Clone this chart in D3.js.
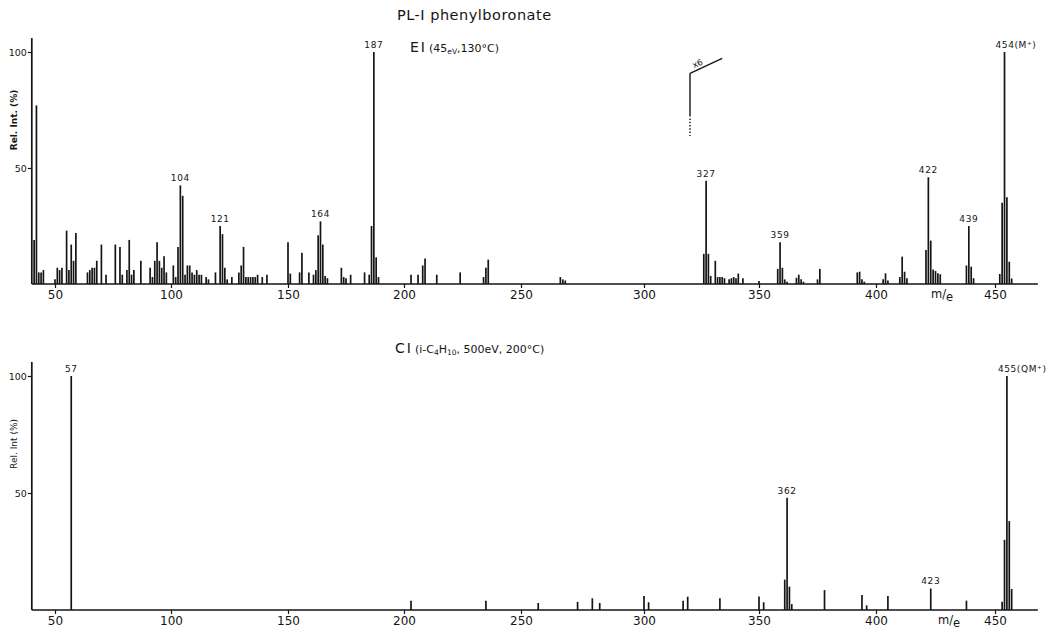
<!DOCTYPE html>
<html>
<head>
<meta charset="utf-8">
<script src="https://cdn.jsdelivr.net/npm/d3@7"></script>
<style>
  body { margin: 0; background: #fff; }
  svg text { font-family: "DejaVu Sans", sans-serif; fill: #151515; }
</style>
</head>
<body>
<svg id="chart" width="1052" height="632"></svg>
<script>
// m/e tick values (shared by both spectra)
const xTicks = [50, 100, 150, 200, 250, 300, 350, 400, 450];
const yTicks = [50, 100];

// EI spectrum (45 eV, 130 °C); peaks right of m/e 320 shown x6
const eiMz = [
  41, 42, 43, 44, 45, 50, 51, 52, 53, 55, 56, 57, 58, 59, 64, 65, 66, 67, 68, 70,
  72, 76, 78, 79, 81, 82, 83, 84, 87, 91, 92, 93, 94, 95, 96, 97, 98, 101, 102, 103,
  104, 105, 106, 107, 108, 109, 110, 111, 112, 113, 115, 116, 119, 121, 122, 123, 124, 126, 129, 130,
  131, 132, 133, 134, 135, 136, 137, 139, 141, 150, 151, 155, 156, 159, 161, 162, 163, 164, 165, 166,
  167, 173, 174, 175, 177, 183, 185, 186, 187, 188, 189, 203, 206, 208, 209, 214, 224, 234, 235, 236,
  266, 267, 268,
  326, 327, 328, 329, 331, 332, 333, 334, 335, 337, 338, 339, 340, 341, 343, 350, 358, 359, 360, 361,
  362, 366, 367, 368, 369, 375, 376, 392, 393, 394, 395, 403, 404, 405, 410, 411, 412, 413, 421, 422,
  423, 424, 425, 426, 427, 438, 439, 440, 441, 452, 453, 454, 455, 456, 457
];
const eiInt = [
  19, 77, 5, 5, 6, 2, 7, 6, 7, 23, 6, 17, 10, 22, 5, 6, 7, 7, 10, 17,
  4, 17, 16, 4, 6, 19, 4, 6, 10, 7, 3, 10, 18, 10, 7, 12, 5, 8, 3, 16,
  42.5, 38, 4, 8, 8, 5, 4, 6, 4, 4, 3, 2, 5, 25, 21.5, 7, 2, 3, 5, 8,
  16, 3, 3, 3, 3, 3, 4, 3, 4, 18, 4.5, 5, 13.5, 5, 4, 6, 21, 27, 17, 3.5,
  2.5, 7, 3, 2.5, 4, 5, 4, 25, 100, 11.5, 3, 4, 4, 8, 11, 4, 5, 3, 7, 10.5,
  3, 2, 1.5,
  13, 44.5, 13, 3.5, 10, 3, 3, 3, 2.5, 2, 2.5, 3, 2.5, 4.5, 2.5, 1.3, 6.5, 18, 7, 2,
  1, 2.7, 4, 2, 1, 2, 6.5, 5, 5.3, 2, 1, 2, 4.6, 1.5, 3, 11.8, 5.3, 2.5, 14.7, 46,
  18.7, 6.3, 5.6, 4.6, 4.2, 8, 25, 7.5, 2.5, 4.3, 35, 100, 37.4, 9.6, 2.4
];
const eiLabelMz = [104, 121, 164, 187, 327, 359, 422, 439, 454];
const eiLabelText = ["104", "121", "164", "187", "327", "359", "422", "439", "454(M\u207A)"];

// CI spectrum (i-C4H10, 500 eV, 200 °C)
const ciMz = [
  57, 203, 235, 257, 273, 279, 282, 300, 302, 317, 319, 333, 350, 352, 361, 362, 363, 364,
  378, 394, 396, 405, 423, 438, 453, 454, 455, 456, 457
];
const ciInt = [
  100, 4, 4, 3, 3.5, 5, 3, 6, 3.3, 4, 5.7, 5, 5.8, 3.3, 13, 48, 10, 2.5,
  8.5, 6.4, 2, 6, 9.2, 4, 3.5, 30, 100, 38, 9
];
const ciLabelMz = [57, 362, 423, 455];
const ciLabelText = ["57", "362", "423", "455(QM\u207A)"];

// scale-change marker in the EI trace
const scaleChangeMz = 320;
const scaleFactorText = "x6";

const svg = d3.select("#chart");

// the recorder's m/e axis is not quite linear, so follow the printed ticks
const x = d3.scaleLinear()
  .domain(xTicks)
  .range([55, 171, 288, 404, 521, 644, 759, 876, 995]);
const xMin = 40;
const xMax = 468;

function drawPanel(opts) {
  const y = d3.scaleLinear().domain([0, 100]).range([opts.base, opts.top]);
  const g = svg.append("g");

  // peaks
  g.append("g")
    .selectAll("line")
    .data(opts.mz.map((m, i) => ({ m, v: opts.ints[i] })))
    .join("line")
    .attr("x1", (d) => x(d.m))
    .attr("x2", (d) => x(d.m))
    .attr("y1", y(0))
    .attr("y2", (d) => y(d.v))
    .attr("stroke", "#151515")
    .attr("stroke-width", 1.7);

  // axis lines
  g.append("line")
    .attr("x1", x(xMin)).attr("x2", x(xMax))
    .attr("y1", y(0)).attr("y2", y(0))
    .attr("stroke", "#151515").attr("stroke-width", 1.7);
  g.append("line")
    .attr("x1", x(xMin)).attr("x2", x(xMin))
    .attr("y1", y(0)).attr("y2", y(106))
    .attr("stroke", "#151515").attr("stroke-width", 1.7);

  const xAxis = g.append("g")
    .attr("transform", `translate(0,${y(0)})`)
    .call(d3.axisBottom(x).tickValues(xTicks).tickSize(4).tickPadding(2));
  xAxis.select(".domain").remove();
  xAxis.selectAll("line").attr("stroke", "#151515").attr("stroke-width", 1.2);
  xAxis.selectAll("text").attr("font-size", 12).attr("font-family", "DejaVu Sans");

  const yAxis = g.append("g")
    .attr("transform", `translate(${x(xMin)},0)`)
    .call(d3.axisLeft(y).tickValues(yTicks).tickSize(4).tickPadding(1));
  yAxis.select(".domain").remove();
  yAxis.selectAll("line").attr("stroke", "#151515").attr("stroke-width", 1.2);
  yAxis.selectAll("text").attr("font-size", 9.5).attr("font-family", "DejaVu Sans");

  // peak labels
  g.append("g")
    .selectAll("text")
    .data(opts.labelMz.map((m, i) => ({ m, t: opts.labelText[i], v: opts.ints[opts.mz.indexOf(m)] })))
    .join("text")
    .attr("x", (d) => x(d.m))
    .attr("y", (d) => y(d.v) - 4)
    .attr("dx", (d) => (d.t.length > 3 ? -9 : 0))
    .attr("text-anchor", (d) => (d.t.length > 3 ? "start" : "middle"))
    .attr("font-size", 9)
    .attr("letter-spacing", 0.6)
    .text((d) => d.t);

  // y label
  g.append("text")
    .attr("transform", `translate(17,${(y(0) + y(100)) / 2 - opts.labelShift}) rotate(-90)`)
    .attr("text-anchor", "middle")
    .attr("font-size", 9)
    .attr("font-weight", opts.boldLabel ? "bold" : "normal")
    .text(opts.yLabel);

  // m/e
  const me = g.append("text")
    .attr("x", opts.meX)
    .attr("y", y(0) + 14)
    .attr("font-size", 11.5);
  me.append("tspan").text("m/");
  me.append("tspan").attr("dy", 3).text("e");

  return y;
}

const yEi = drawPanel({
  mz: eiMz, ints: eiInt, labelMz: eiLabelMz, labelText: eiLabelText,
  base: 284, top: 52, yLabel: "Rel. Int. (%)", boldLabel: true, labelShift: 48, meX: 931,
});
const yCi = drawPanel({
  mz: ciMz, ints: ciInt, labelMz: ciLabelMz, labelText: ciLabelText,
  base: 610, top: 376, yLabel: "Rel. Int (%)", boldLabel: false, labelShift: 49, meX: 938,
});

// x6 marker
const mk = svg.append("g").attr("stroke", "#151515").attr("stroke-width", 1.4);
mk.append("line")
  .attr("x1", x(scaleChangeMz)).attr("x2", x(scaleChangeMz))
  .attr("y1", yEi(90.8)).attr("y2", yEi(72.8));
mk.append("line")
  .attr("x1", x(scaleChangeMz)).attr("x2", x(scaleChangeMz))
  .attr("y1", yEi(72.8)).attr("y2", yEi(63.8))
  .attr("stroke-dasharray", "1.5,1.8");
mk.append("line")
  .attr("x1", x(scaleChangeMz)).attr("x2", x(scaleChangeMz + 14))
  .attr("y1", yEi(90.8)).attr("y2", yEi(97.3));
svg.append("text")
  .attr("transform", `translate(${x(scaleChangeMz) + 4},${yEi(93)}) rotate(-24)`)
  .attr("font-size", 8.5)
  .text(scaleFactorText);

// titles
svg.append("text")
  .attr("x", 397).attr("y", 20)
  .attr("font-size", 14.5)
  .attr("letter-spacing", 0.5)
  .text("PL-I phenylboronate");

const ei = svg.append("text").attr("x", 410).attr("y", 52);
ei.append("tspan").attr("font-size", 14).attr("letter-spacing", 2).text("EI");
ei.append("tspan").attr("font-size", 11).attr("dx", 2).text("(45");
ei.append("tspan").attr("font-size", 7.5).attr("dy", 1.5).text("eV");
ei.append("tspan").attr("font-size", 11).attr("dy", -1.5).text(",130\u00B0C)");

const ci = svg.append("text").attr("x", 395).attr("y", 353);
ci.append("tspan").attr("font-size", 14).attr("letter-spacing", 2).text("CI");
ci.append("tspan").attr("font-size", 11).attr("dx", 2).text("(i-C");
ci.append("tspan").attr("font-size", 7.5).attr("dy", 2).text("4");
ci.append("tspan").attr("font-size", 11).attr("dy", -2).text("H");
ci.append("tspan").attr("font-size", 7.5).attr("dy", 2).text("10");
ci.append("tspan").attr("font-size", 11).attr("dy", -2).text(", 500eV, 200\u00B0C)");
</script>
</body>
</html>
